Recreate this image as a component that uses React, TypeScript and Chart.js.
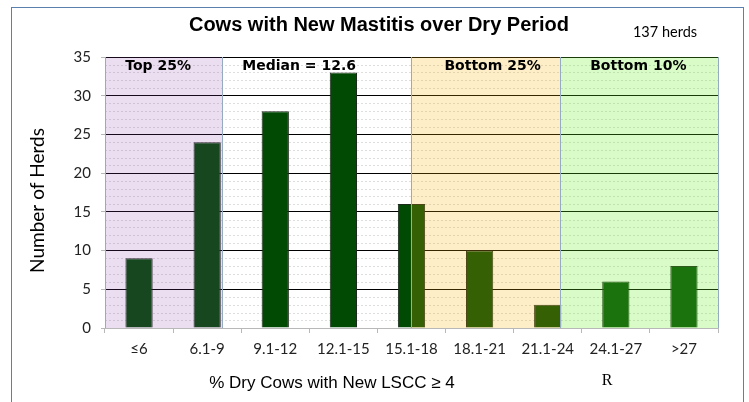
import React, { useEffect, useRef } from 'react';
import { Chart, registerables } from 'chart.js';
Chart.register(...registerables);

const categories = ['≤6', '6.1-9', '9.1-12', '12.1-15', '15.1-18', '18.1-21', '21.1-24', '24.1-27', '>27'];
const herdCounts = [9, 24, 28, 33, 16, 10, 3, 6, 8];
const yMin = 0;
const yMax = 35;
const yStep = 5;
const bandLabels = ['Top 25%', 'Median = 12.6', 'Bottom 25%', 'Bottom 10%'];
const bandStarts = [-0.5, 1.22, 3.99, 6.18];
const bandEnds = [1.22, 3.99, 6.18, 8.5];
const bandLabelAt = [0.28, 2.35, 5.19, 7.33];
const bandColors = ['rgba(137,61,167,0.17)', 'rgba(255,255,255,0)', 'rgba(246,178,5,0.22)', 'rgba(104,240,36,0.25)'];

const chartTitle = 'Cows with New Mastitis over Dry Period';
const herdNote = '137 herds';
const xTitle = '% Dry Cows with New LSCC ≥ 4';
const yTitle = 'Number of Herds';

const decorPlugin = {
  id: 'decor',
  beforeDraw(chart: any) {
    const ctx = chart.ctx;
    ctx.save();
    ctx.fillStyle = '#ffffff';
    ctx.fillRect(0, 0, chart.width, chart.height);
    ctx.restore();
  },
  beforeDatasetsDraw(chart: any) {
    const ctx = chart.ctx;
    const { left, right } = chart.chartArea;
    const y = chart.scales.y;
    ctx.save();
    ctx.strokeStyle = '#dedede';
    ctx.lineWidth = 1;
    ctx.setLineDash([2, 2]);
    for (let v = yMin + 1; v < yMax; v++) {
      if (v % yStep === 0) continue;
      const py = Math.round(y.getPixelForValue(v)) + 0.5;
      ctx.beginPath();
      ctx.moveTo(left, py);
      ctx.lineTo(right, py);
      ctx.stroke();
    }
    ctx.restore();
  },
  afterDatasetsDraw(chart: any) {
    const ctx = chart.ctx;
    const { top, bottom } = chart.chartArea;
    const x = chart.scales.x;
    ctx.save();
    for (let i = 0; i < bandStarts.length; i++) {
      const x0 = x.getPixelForValue(bandStarts[i]);
      const x1 = x.getPixelForValue(bandEnds[i]);
      ctx.fillStyle = bandColors[i];
      ctx.fillRect(x0, top, x1 - x0, bottom - top);
    }
    ctx.strokeStyle = '#94abc2';
    ctx.lineWidth = 1;
    const edges = [bandStarts[0], ...bandEnds];
    edges.forEach((e) => {
      const px = Math.round(x.getPixelForValue(e)) + 0.5;
      ctx.beginPath();
      ctx.moveTo(px, top);
      ctx.lineTo(px, bottom);
      ctx.stroke();
    });
    ctx.fillStyle = '#000000';
    ctx.font = 'bold 14px "Comic Sans MS", "DejaVu Sans", sans-serif';
    ctx.textAlign = 'center';
    ctx.textBaseline = 'middle';
    for (let i = 0; i < bandLabels.length; i++) {
      ctx.fillText(bandLabels[i], x.getPixelForValue(bandLabelAt[i]), top + 9);
    }
    ctx.restore();
  },
  afterDraw(chart: any) {
    const ctx = chart.ctx;
    const { top, bottom } = chart.chartArea;
    ctx.save();
    ctx.strokeStyle = '#5a80ad';
    ctx.lineWidth = 1;
    ctx.strokeRect(11.5, 7.5, 732, 400);
    ctx.fillStyle = '#000000';
    ctx.textAlign = 'center';
    ctx.textBaseline = 'middle';
    ctx.font = 'bold 20px "Liberation Sans", Arial, sans-serif';
    ctx.fillText(chartTitle, 379, 25);
    ctx.font = '14.5px Lato, "Open Sans", sans-serif';
    ctx.fillText(herdNote, 665, 32);
    ctx.font = '17px "Liberation Sans", Arial, sans-serif';
    ctx.fillText(xTitle, 332, 383);
    ctx.font = '16px "Liberation Serif", serif';
    ctx.fillText('R', 607, 381);
    ctx.translate(38, (top + bottom) / 2 + 8);
    ctx.rotate(-Math.PI / 2);
    ctx.font = '19px Lato, "Open Sans", sans-serif';
    ctx.fillText(yTitle, 0, 0);
    ctx.restore();
  },
};

export default function App() {
  const ref = useRef<HTMLCanvasElement>(null);
  useEffect(() => {
    const canvas = ref.current;
    if (!canvas) return;
    const chart = new Chart(canvas, {
      type: 'bar',
      data: {
        labels: categories,
        datasets: [
          {
            data: herdCounts,
            backgroundColor: '#004a04',
            borderColor: '#1c2a1c',
            borderWidth: 1,
            barPercentage: 0.4,
            categoryPercentage: 1,
          },
        ],
      },
      options: {
        animation: false,
        responsive: false,
        devicePixelRatio: 1,
        layout: { padding: { left: 0, top: 57, right: 31, bottom: 0 } },
        plugins: {
          legend: { display: false },
          title: { display: false },
          tooltip: { enabled: false },
        },
        scales: {
          x: {
            afterFit: (s: any) => {
              s.height = 74;
            },
            grid: {
              display: true,
              drawOnChartArea: false,
              drawTicks: true,
              tickLength: 5,
              tickColor: '#b8b8b8',
              offset: true,
            },
            border: { display: true, color: '#b8b8b8' },
            ticks: {
              color: '#222222',
              font: { family: 'Lato, "Open Sans", sans-serif', size: 15 },
              padding: 7,
              maxRotation: 0,
              autoSkip: false,
            },
          },
          y: {
            min: yMin,
            max: yMax,
            afterFit: (s: any) => {
              s.width = 105;
            },
            grid: {
              color: (c: any) => (c.tick && c.tick.value === 0 ? 'rgba(0,0,0,0)' : '#000000'),
              lineWidth: 1,
              drawTicks: true,
              tickLength: 4,
              tickColor: '#b8b8b8',
            },
            border: { display: false },
            ticks: {
              stepSize: yStep,
              color: '#222222',
              font: { family: 'Lato, "Open Sans", sans-serif', size: 15 },
              padding: 10,
            },
          },
        },
      },
      plugins: [decorPlugin],
    });
    return () => chart.destroy();
  }, []);
  return (
    <canvas
      ref={ref}
      width={749}
      height={402}
      style={{ position: 'fixed', left: 0, top: 0, width: 749, height: 402 }}
    />
  );
}
